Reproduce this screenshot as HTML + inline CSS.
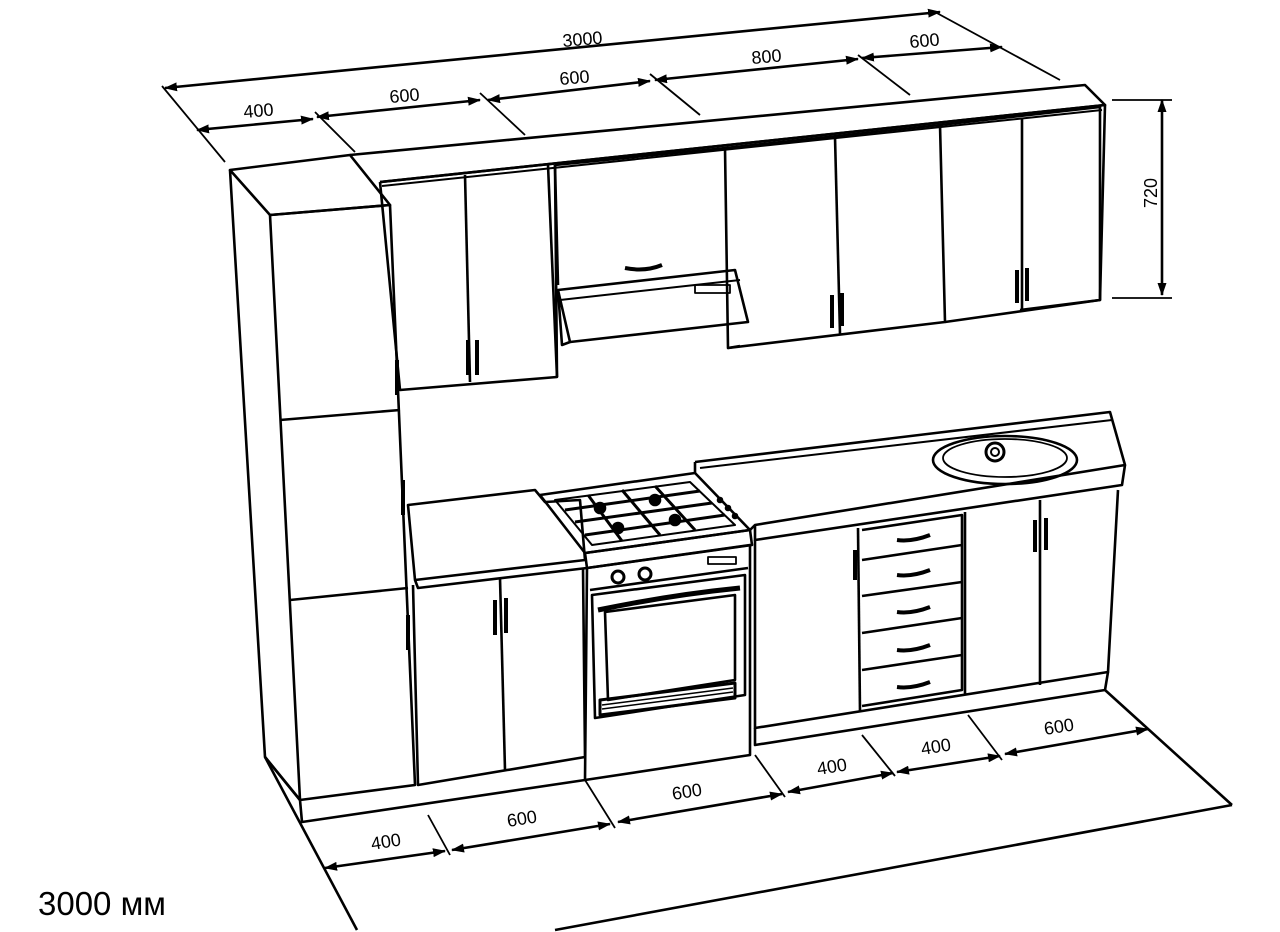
<!DOCTYPE html>
<html><head><meta charset="utf-8"><style>
html,body{margin:0;padding:0;background:#fff;}
svg{display:block;}
text{font-family:"Liberation Sans",sans-serif;font-size:18px;fill:#000;}
</style></head><body>
<svg width="1280" height="932" viewBox="0 0 1280 932" xmlns="http://www.w3.org/2000/svg">
<defs>
<marker id="a" markerWidth="13" markerHeight="9" refX="12" refY="4.5" orient="auto-start-reverse" markerUnits="userSpaceOnUse"><path d="M0,0 L13,4.5 L0,9 z" fill="#000"/></marker>
</defs>
<g stroke="#000" stroke-width="2.6" fill="none" stroke-linejoin="round">
<line x1="165" y1="88" x2="940" y2="12" marker-start="url(#a)" marker-end="url(#a)"/>
<line x1="162" y1="86" x2="225" y2="162" stroke-width="1.8"/>
<line x1="935" y1="12" x2="1060" y2="80" stroke-width="1.8"/>
<line x1="197" y1="130" x2="313" y2="119" marker-start="url(#a)" marker-end="url(#a)"/>
<line x1="317" y1="117" x2="480" y2="100" marker-start="url(#a)" marker-end="url(#a)"/>
<line x1="488" y1="100" x2="650" y2="81" marker-start="url(#a)" marker-end="url(#a)"/>
<line x1="655" y1="80" x2="858" y2="59" marker-start="url(#a)" marker-end="url(#a)"/>
<line x1="862" y1="58" x2="1002" y2="47" marker-start="url(#a)" marker-end="url(#a)"/>
<line x1="315" y1="112" x2="355" y2="152" stroke-width="1.8"/>
<line x1="480" y1="93" x2="525" y2="135" stroke-width="1.8"/>
<line x1="650" y1="74" x2="700" y2="115" stroke-width="1.8"/>
<line x1="858" y1="55" x2="910" y2="95" stroke-width="1.8"/>
<line x1="1162" y1="100" x2="1162" y2="295" marker-start="url(#a)" marker-end="url(#a)"/>
<line x1="1112" y1="100" x2="1172" y2="100" stroke-width="1.8"/>
<line x1="1112" y1="298" x2="1172" y2="298" stroke-width="1.8"/>
<line x1="325" y1="868" x2="445" y2="851" marker-start="url(#a)" marker-end="url(#a)"/>
<line x1="452" y1="850" x2="610" y2="824" marker-start="url(#a)" marker-end="url(#a)"/>
<line x1="618" y1="822" x2="782" y2="794" marker-start="url(#a)" marker-end="url(#a)"/>
<line x1="788" y1="792" x2="893" y2="773" marker-start="url(#a)" marker-end="url(#a)"/>
<line x1="897" y1="772" x2="1000" y2="756" marker-start="url(#a)" marker-end="url(#a)"/>
<line x1="1005" y1="754" x2="1148" y2="729" marker-start="url(#a)" marker-end="url(#a)"/>
<line x1="428" y1="815" x2="450" y2="855" stroke-width="1.8"/>
<line x1="585" y1="780" x2="615" y2="828" stroke-width="1.8"/>
<line x1="755" y1="755" x2="785" y2="797" stroke-width="1.8"/>
<line x1="862" y1="735" x2="895" y2="776" stroke-width="1.8"/>
<line x1="968" y1="715" x2="1002" y2="760" stroke-width="1.8"/>
<line x1="265" y1="757" x2="357" y2="930"/>
<line x1="555" y1="930" x2="1232" y2="805"/>
<line x1="1105" y1="690" x2="1232" y2="805"/>
<line x1="265" y1="757" x2="300" y2="800"/>
<path d="M230,170 L350,155 L390,205 L270,215 Z"/>
<path d="M230,170 L265,757 L300,800 L270,215"/>
<path d="M270,215 L390,205 L415,785 L300,800"/>
<path d="M300,800 L302,822 L585,780"/>
<line x1="280" y1="420" x2="400" y2="410"/>
<line x1="290" y1="600" x2="408" y2="588"/>
<line x1="397" y1="360" x2="397" y2="395" stroke-width="4"/>
<line x1="403" y1="480" x2="403" y2="515" stroke-width="4"/>
<line x1="408" y1="615" x2="408" y2="650" stroke-width="4"/>
<path d="M350,155 L1085,85 L1105,105 L380,182"/>
<path d="M382,186 L1102,110" stroke-width="2"/>
<path d="M380,182 L1105,105 L1100,300 L1020,310"/>
<path d="M380,182 L400,390 L557,377 L555,165"/>
<line x1="465" y1="175" x2="470" y2="382"/>
<line x1="548" y1="165" x2="557" y2="377"/>
<path d="M555,165 L725,148 L728,348 L740,346"/>
<line x1="555" y1="165" x2="558" y2="285"/>
<path d="M725,148 L940,125 L945,322 L728,348"/>
<line x1="835" y1="137" x2="840" y2="334"/>
<path d="M940,125 L1100,107 L1100,300 L945,322"/>
<line x1="1022" y1="118" x2="1022" y2="310"/>
<line x1="468" y1="340" x2="468" y2="375" stroke-width="4"/>
<line x1="477" y1="340" x2="477" y2="375" stroke-width="4"/>
<line x1="832" y1="295" x2="832" y2="328" stroke-width="4"/>
<line x1="842" y1="293" x2="842" y2="326" stroke-width="4"/>
<line x1="1017" y1="270" x2="1017" y2="303" stroke-width="4"/>
<line x1="1027" y1="268" x2="1027" y2="301" stroke-width="4"/>
<path d="M625,268 Q645,272 662,265" stroke-width="4"/>
<path d="M558,290 L735,270 L748,322 L570,342 Z"/>
<path d="M560,300 L740,280" stroke-width="2"/>
<path d="M558,290 L562,345 L570,342"/>
<rect x="695" y="285" width="35" height="8" stroke-width="1.8"/>
<path d="M408,505 L535,490 L545,502 L580,500 L585,560 L415,580 Z"/>
<path d="M415,580 L418,588 L587,568"/>
<path d="M413,585 L418,785 L585,757 L583,568"/>
<line x1="500" y1="578" x2="505" y2="770"/>
<line x1="495" y1="600" x2="495" y2="635" stroke-width="4"/>
<line x1="506" y1="598" x2="506" y2="633" stroke-width="4"/>
<path d="M540,495 L695,473 L750,530 L585,553 Z"/>
<path d="M555,500 L690,482 L735,525 L592,545 Z" stroke-width="2"/>
<g stroke-width="3">
<line x1="622" y1="490" x2="660" y2="535"/>
<line x1="575" y1="522" x2="712" y2="503"/>
<line x1="588" y1="495" x2="622" y2="541"/>
<line x1="655" y1="486" x2="695" y2="530"/>
<line x1="565" y1="510" x2="700" y2="491"/>
<line x1="585" y1="535" x2="725" y2="515"/>
</g>
<circle cx="600" cy="508" r="5" fill="#000"/><circle cx="655" cy="500" r="5" fill="#000"/>
<circle cx="618" cy="528" r="5" fill="#000"/><circle cx="675" cy="520" r="5" fill="#000"/>
<circle cx="728" cy="508" r="2" fill="#000"/><circle cx="735" cy="516" r="2" fill="#000"/><circle cx="720" cy="500" r="2" fill="#000"/>
<path d="M585,553 L750,530 L752,545 L587,568 Z"/>
<path d="M587,568 L750,545 L750,755 L585,780 Z"/>
<path d="M590,590 L748,568"/>
<path d="M592,595 L745,575 L745,695 L595,718 Z"/>
<path d="M605,612 L735,595 L735,680 L608,700 Z"/>
<path d="M598,610 Q670,595 740,588" stroke-width="5"/>
<path d="M600,700 L735,683 L735,698 L600,715 Z" stroke-width="3"/>
<g stroke-width="1.5"><line x1="602" y1="705" x2="733" y2="688"/><line x1="602" y1="709" x2="733" y2="692"/></g>
<circle cx="618" cy="577" r="6" stroke-width="3"/><circle cx="645" cy="574" r="6" stroke-width="3"/>
<rect x="708" y="557" width="28" height="7" stroke-width="1.8"/>
<path d="M695,462 L1110,412 L1125,465 L755,525 L750,530"/>
<path d="M700,468 L1112,420" stroke-width="2"/>
<path d="M755,525 L755,540 L1122,485 L1125,465"/>
<line x1="695" y1="462" x2="695" y2="473"/>
<ellipse cx="1005" cy="460" rx="72" ry="24"/>
<ellipse cx="1005" cy="458" rx="62" ry="19" stroke-width="1.8"/>
<circle cx="995" cy="452" r="9" stroke-width="3"/>
<circle cx="995" cy="452" r="4" stroke-width="2"/>
<path d="M755,540 L755,728 L1108,672 L1118,490"/>
<line x1="858" y1="528" x2="860" y2="712"/>
<line x1="965" y1="512" x2="965" y2="695"/>
<line x1="1040" y1="500" x2="1040" y2="685"/>
<path d="M862,530 L962,515 L962,690 L862,706"/>
<line x1="862" y1="560" x2="962" y2="545"/>
<line x1="862" y1="596" x2="962" y2="582"/>
<line x1="862" y1="633" x2="962" y2="618"/>
<line x1="862" y1="670" x2="962" y2="655"/>
<path d="M755,728 L755,745 L1105,690 L1108,672"/>
<line x1="855" y1="550" x2="855" y2="580" stroke-width="4"/>
<line x1="1035" y1="520" x2="1035" y2="552" stroke-width="4"/>
<line x1="1046" y1="518" x2="1046" y2="550" stroke-width="4"/>
<g stroke-width="4">
<path d="M897,540 Q912,542 930,535"/><path d="M897,575 Q912,577 930,570"/>
<path d="M897,612 Q912,614 930,607"/><path d="M897,650 Q912,652 930,645"/>
<path d="M897,687 Q912,689 930,682"/>
</g>
</g>
<g>
<text x="563" y="47" transform="rotate(-5 563 47)">3000</text>
<text x="244" y="118" transform="rotate(-5 244 118)">400</text>
<text x="390" y="103" transform="rotate(-5 390 103)">600</text>
<text x="560" y="85" transform="rotate(-5 560 85)">600</text>
<text x="752" y="64" transform="rotate(-5 752 64)">800</text>
<text x="910" y="48" transform="rotate(-5 910 48)">600</text>
<text x="1157" y="208" transform="rotate(-90 1157 208)">720</text>
<text x="372" y="850" transform="rotate(-9 372 850)">400</text>
<text x="508" y="827" transform="rotate(-9 508 827)">600</text>
<text x="673" y="800" transform="rotate(-9 673 800)">600</text>
<text x="818" y="775" transform="rotate(-9 818 775)">400</text>
<text x="922" y="755" transform="rotate(-9 922 755)">400</text>
<text x="1045" y="735" transform="rotate(-9 1045 735)">600</text>
<text x="38" y="915" style="font-size:33px">3000 мм</text>
</g>
</svg>
</body></html>
